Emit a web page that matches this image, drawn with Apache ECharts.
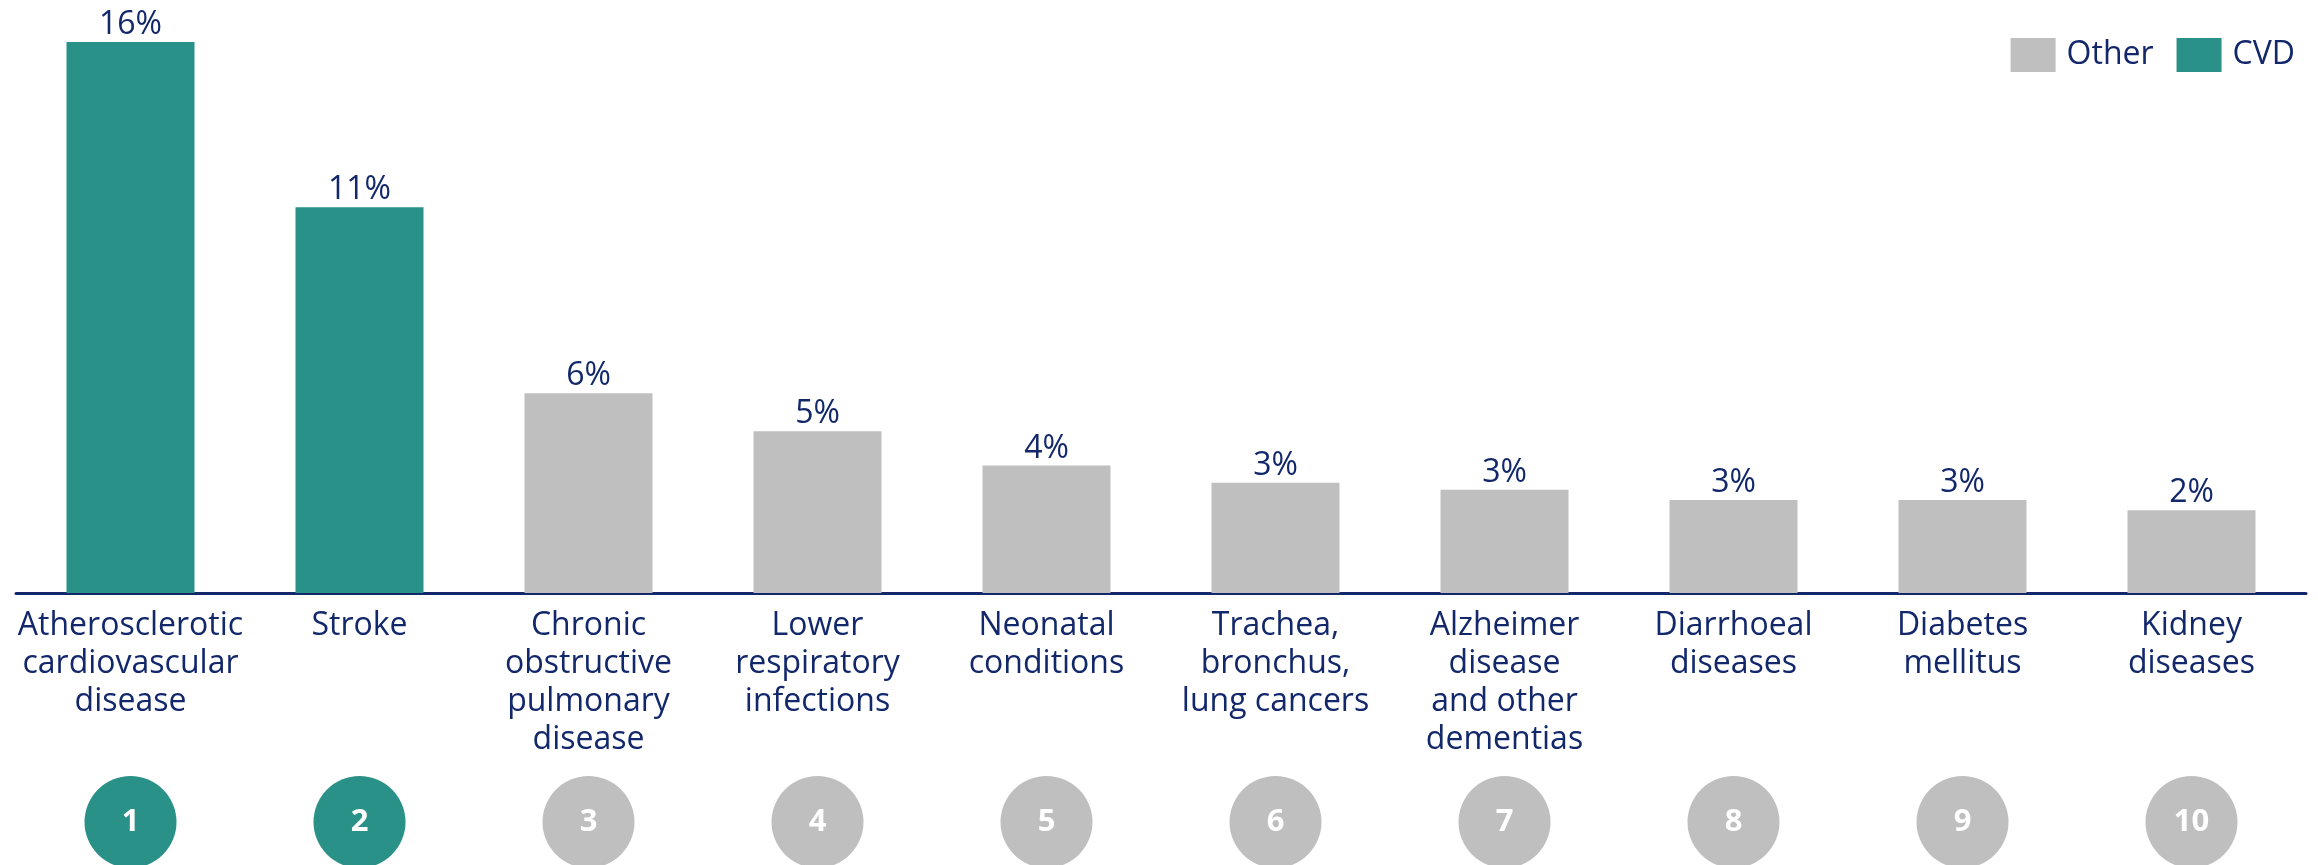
<!DOCTYPE html>
<html>
<head>
<meta charset="utf-8">
<script src="https://cdn.jsdelivr.net/npm/echarts@6/dist/echarts.min.js"></script>
<style>
  html, body { margin: 0; padding: 0; background: #fff; }
  #chart { width: 2318px; height: 865px; }
</style>
</head>
<body>
<div id="chart"></div>
<script>
var categories = [
  'Atherosclerotic\ncardiovascular\ndisease',
  'Stroke',
  'Chronic\nobstructive\npulmonary\ndisease',
  'Lower\nrespiratory\ninfections',
  'Neonatal\nconditions',
  'Trachea,\nbronchus,\nlung cancers',
  'Alzheimer\ndisease\nand other\ndementias',
  'Diarrhoeal\ndiseases',
  'Diabetes\nmellitus',
  'Kidney\ndiseases'
];
var values = [16.0, 11.2, 5.8, 4.7, 3.7, 3.2, 3.0, 2.7, 2.7, 2.4];
var groups = ['CVD', 'CVD', 'Other', 'Other', 'Other', 'Other', 'Other', 'Other', 'Other', 'Other'];
var ranks = ['1', '2', '3', '4', '5', '6', '7', '8', '9', '10'];

var teal = '#2a9188', grey = '#bfbfbf', navy = '#13286b';
var font = '"Open Sans", "Noto Sans", sans-serif';

// one series per group, stacked so each bar keeps its own slot
function pick(g) {
  return values.map(function (v, i) { return groups[i] === g ? v : '-'; });
}
var barLabel = {
  show: true, position: 'top', distance: 1,
  color: navy, fontSize: 32, fontFamily: font,
  formatter: function (p) { return Math.round(p.value) + '%'; }
};

var myChart = echarts.init(document.getElementById('chart'));
myChart.setOption({
  animation: false,
  textStyle: { fontFamily: font },
  legend: {
    data: ['Other', 'CVD'],
    right: 18, top: 33,
    icon: 'rect',
    itemWidth: 45, itemHeight: 34, itemGap: 23,
    textStyle: { color: navy, fontSize: 32, fontFamily: font, padding: [0, 0, 0, 6] }
  },
  grid: [
    { left: 16, right: 12, top: 42, bottom: 272 },
    { left: 16, right: 12, top: 802, height: 40 }
  ],
  xAxis: [{
    type: 'category', data: categories,
    axisLine: { lineStyle: { color: navy, width: 3 } },
    axisTick: { show: false },
    axisLabel: { color: navy, fontSize: 32, lineHeight: 38, margin: 14, interval: 0, fontFamily: font }
  }, {
    type: 'category', gridIndex: 1, data: ranks, show: false
  }],
  yAxis: [{
    type: 'value', min: 0, max: 16, show: false, splitLine: { show: false }
  }, {
    type: 'value', gridIndex: 1, min: 0, max: 1, show: false, splitLine: { show: false }
  }],
  series: [{
    name: 'Other', type: 'bar', stack: 'all', barWidth: 128,
    data: pick('Other'), itemStyle: { color: grey }, label: barLabel
  }, {
    name: 'CVD', type: 'bar', stack: 'all', barWidth: 128,
    data: pick('CVD'), itemStyle: { color: teal }, label: barLabel
  }, {
    type: 'scatter', xAxisIndex: 1, yAxisIndex: 1, symbolSize: 92, clip: false,
    data: ranks.map(function (r, i) {
      return { value: [i, 0.5], itemStyle: { color: groups[i] === 'CVD' ? teal : grey, opacity: 1 } };
    }),
    label: {
      show: true, position: 'inside', color: '#fff', fontSize: 31, fontWeight: 'bold', fontFamily: font,
      formatter: function (p) { return ranks[p.dataIndex]; }
    }
  }]
});
</script>
</body>
</html>
